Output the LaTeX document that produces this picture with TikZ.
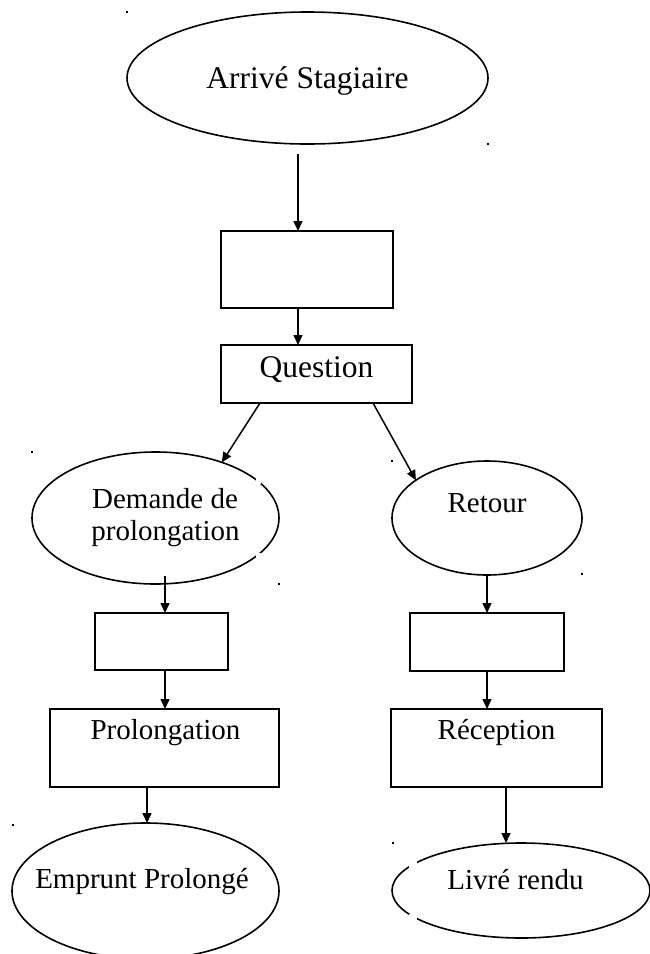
\documentclass[tikz,border=0pt]{standalone}
\usepackage{fontspec}
\setmainfont{Liberation Serif}
\usetikzlibrary{shapes.geometric,arrows.meta}

\begin{document}
\begin{tikzpicture}[x=1pt,y=-1pt,
  oval/.style={draw,ellipse,line width=1.6pt,inner sep=0pt,outer sep=0pt},
  box/.style={draw,rectangle,line width=1.9pt,inner sep=0pt,outer sep=0pt},
  big/.style={font=\fontsize{31.5}{36}\selectfont,anchor=base,inner sep=0pt},
  txt/.style={font=\fontsize{29}{34}\selectfont,anchor=base,inner sep=0pt},
  arr/.style={line width=1.5pt,-{Triangle[length=10pt,width=9pt]}},
  speck/.style={fill=black},
  gap/.style={fill=white},
]
\useasboundingbox (0,0) rectangle (649,954);

% shapes
\node[oval, minimum width=361pt, minimum height=132pt] (start) at (307.5,78) {};
\node[box, minimum width=172pt, minimum height=77pt] (box1) at (307,269.5) {};
\node[box, minimum width=191pt, minimum height=58pt] (quest) at (316.5,374) {};
\node[oval, minimum width=247pt, minimum height=132pt] (dem) at (155.5,518) {};
\node[oval, minimum width=190pt, minimum height=114pt] (ret) at (487,518) {};
\node[box, minimum width=133pt, minimum height=57pt] (lbox) at (161.5,641.5) {};
\node[box, minimum width=154pt, minimum height=58pt] (rbox) at (487,642) {};
\node[box, minimum width=229pt, minimum height=78pt] (pro) at (164.5,748) {};
\node[box, minimum width=211pt, minimum height=78pt] (rec) at (496.5,748) {};
\node[oval, minimum width=267pt, minimum height=136pt] (emp) at (145.5,891) {};
\node[oval, minimum width=258pt, minimum height=95pt] (liv) at (521,890.5) {};

% small breaks in the outlines
\fill[gap] (255.5,478.5) rectangle (261,483.5);
\fill[gap] (255.5,552.5) rectangle (261,557.5);
\fill[gap] (409,860.5) rectangle (417,867.5);
\fill[gap] (409,913.5) rectangle (417,920.5);

% labels
\node[big] (tstart) at (307.5,88) {Arrivé Stagiaire};
\node[big] (tquest) at (316.5,377) {Question};
\node[txt] (tdem1) at (165,508) {Demande de};
\node[txt] (tdem2) at (165.5,540) {prolongation};
\node[txt] (tret) at (487,512) {Retour};
\node[txt] (tpro) at (165.5,739) {Prolongation};
\node[txt] (trec) at (496.5,739) {Réception};
\node[txt] (temp) at (142,888) {Emprunt Prolongé};
\node[txt] (tliv) at (515.5,889) {Livré rendu};

% connector start points
\coordinate (s1) at (298,154);
\coordinate (s2) at (298,308);
\coordinate (s3) at (260,403);
\coordinate (s4) at (373,403);
\coordinate (s5) at (165,576);
\coordinate (s6) at (165,670);
\coordinate (s7) at (147,787);
\coordinate (s10) at (506,787);

% connectors
\draw[arr] (s1) -- (s1 |- box1.north);
\draw[arr] (s2) -- (s2 |- quest.north);
\draw[arr] (s3) -- (dem.40);
\draw[arr] (s4) -- (ret.152);
\draw[arr] (s5) -- (s5 |- lbox.north);
\draw[arr] (s6) -- (s6 |- pro.north);
\draw[arr] (s7) -- (s7 |- emp.north);
\draw[arr] (ret.south) -- (rbox.north);
\draw[arr] (rbox.south) -- (rbox.south |- rec.north);
\draw[arr] (s10) -- (s10 |- liv.north);

% corner specks
\foreach \p/\q in {127/12, 488/144, 32/452, 279/584, 392/461, 582/574, 13/825, 393/843}
  \fill[speck] (\p-1.3,\q-1.3) rectangle (\p+1.3,\q+1.3);
\end{tikzpicture}
\end{document}
